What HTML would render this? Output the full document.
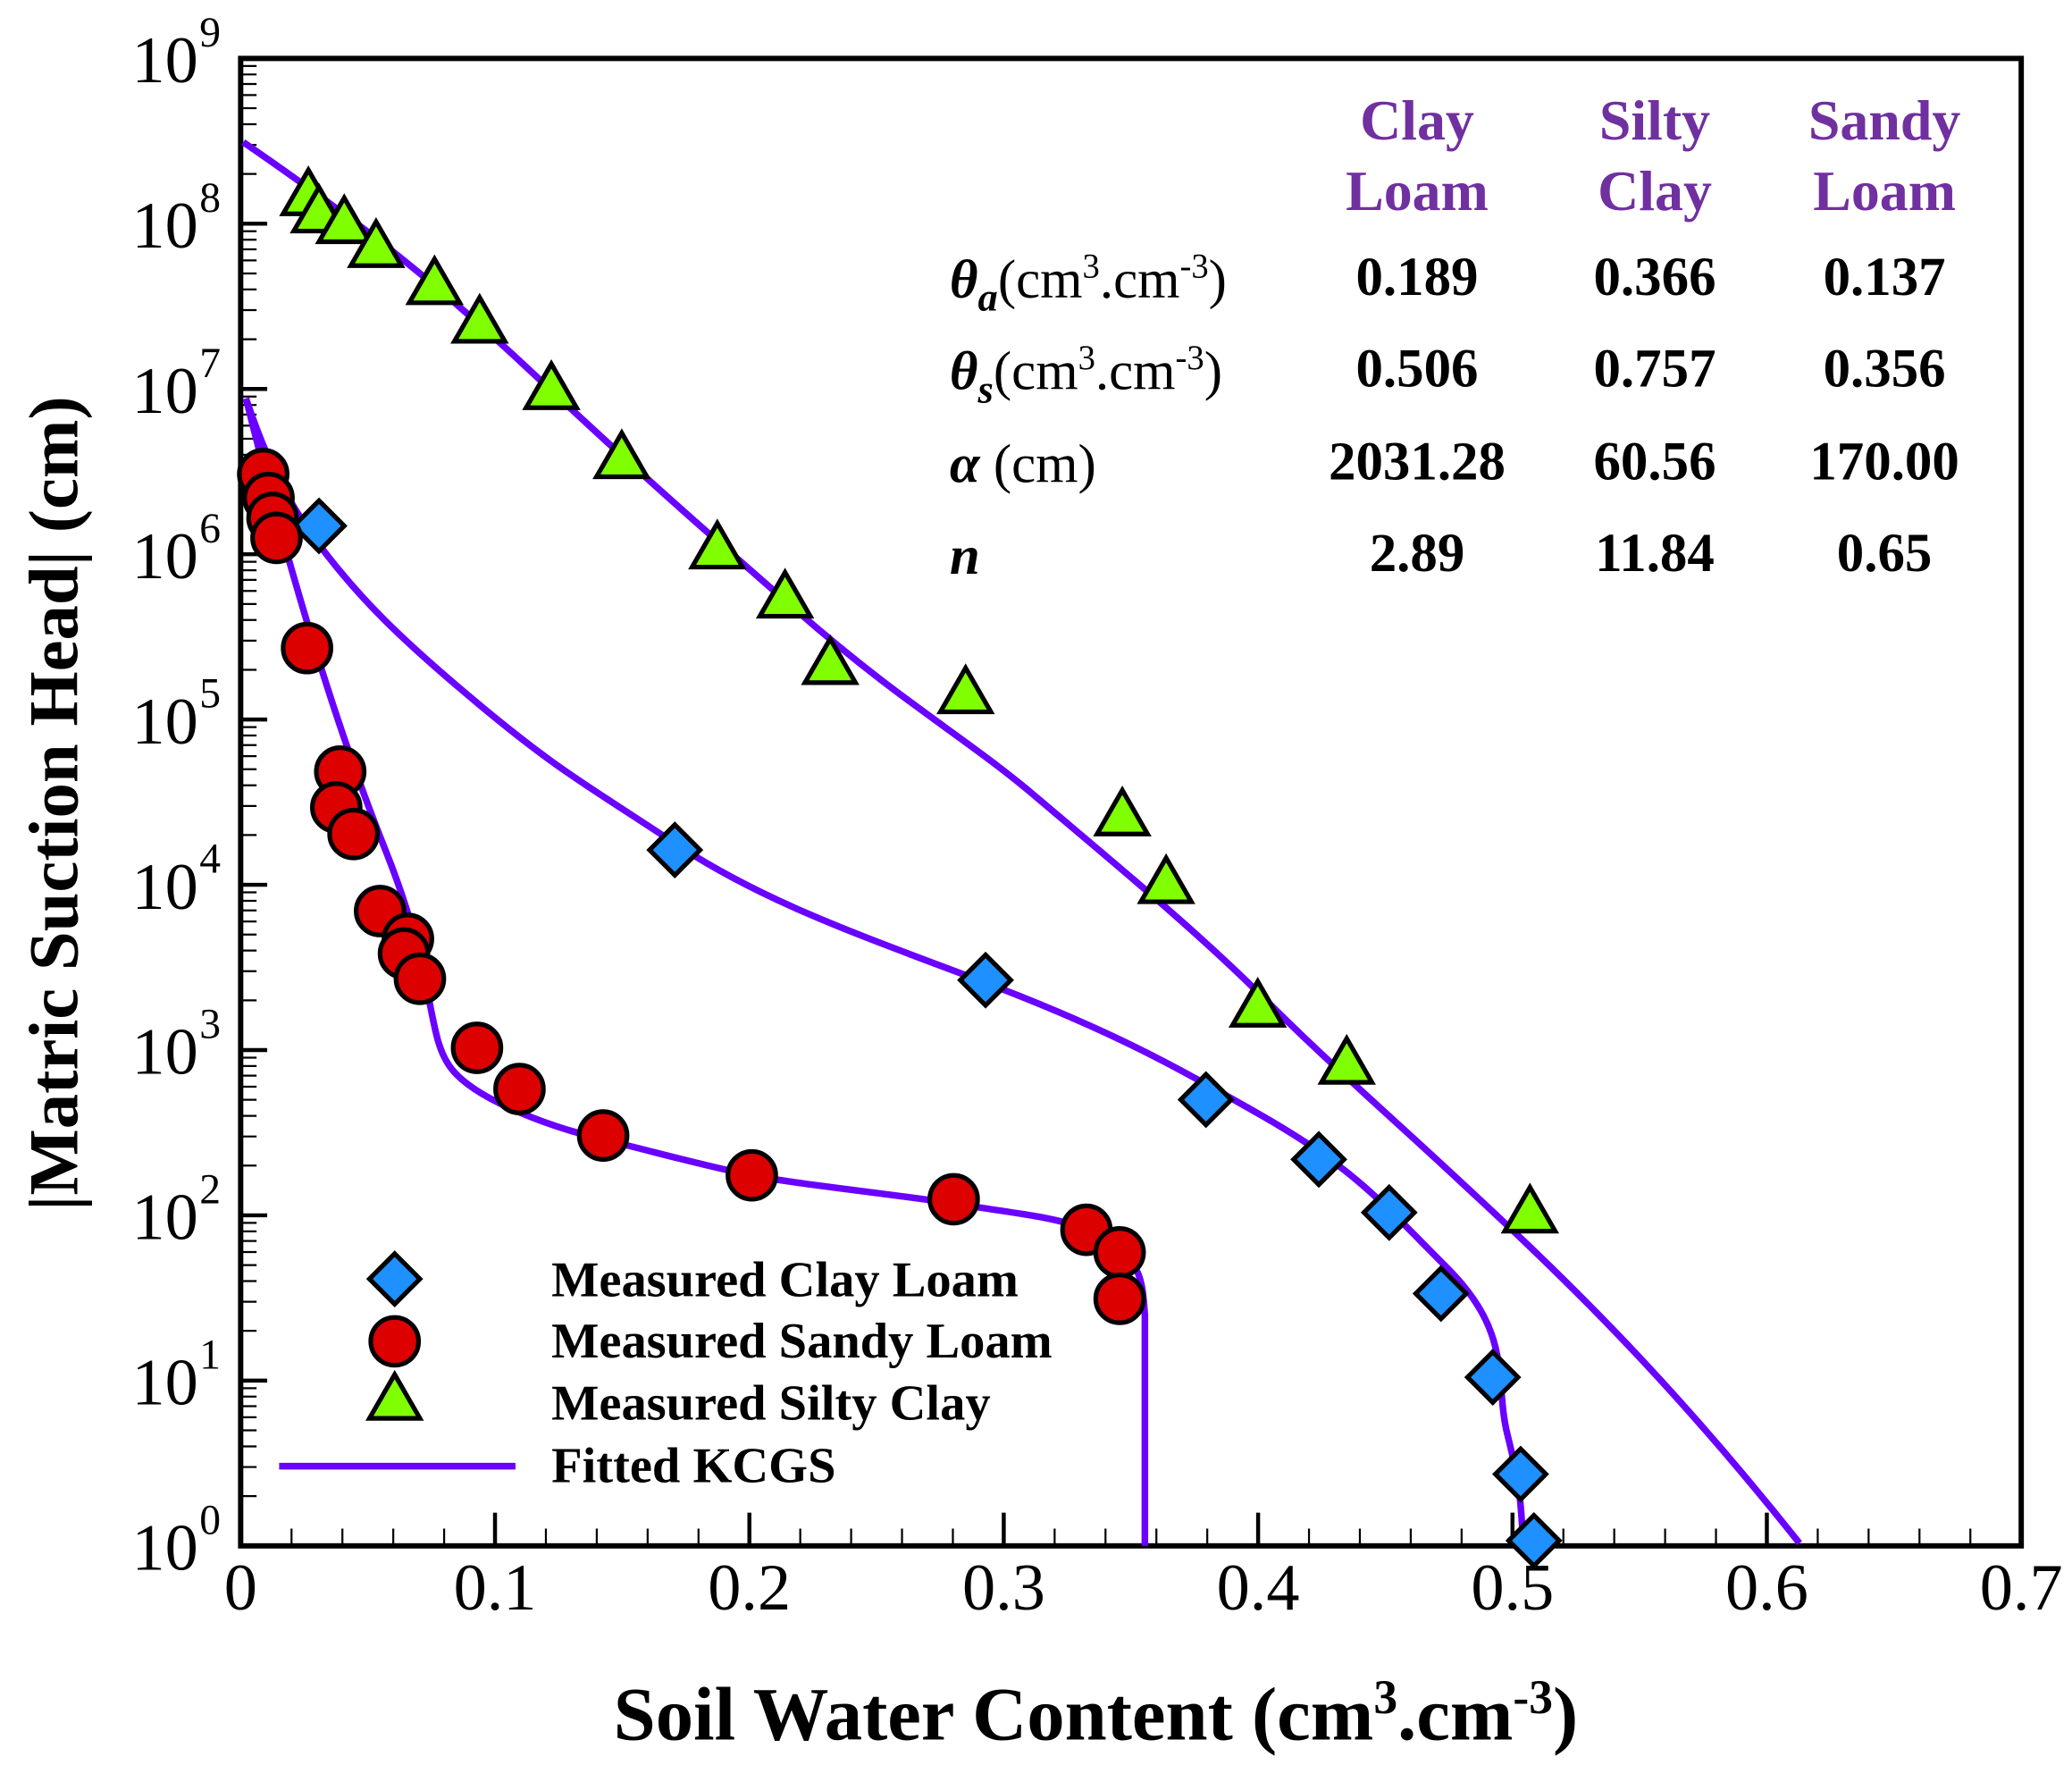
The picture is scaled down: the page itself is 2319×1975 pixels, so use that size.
<!DOCTYPE html>
<html><head><meta charset="utf-8"><style>
html,body{margin:0;padding:0;background:#fff;}
svg{display:block;}
text{font-family:"Liberation Serif",serif;}
</style></head><body>
<svg id="s" width="2319" height="1975" viewBox="0 0 1560 1329" xmlns="http://www.w3.org/2000/svg">
<g id="ticks" stroke="#000"></g>
<rect x="181" y="44" width="1341" height="1120" fill="none" stroke="#000" stroke-width="4"/>
<g font-size="50" fill="#000" id="lbl"></g>
<text x="825" y="1310" font-size="57" font-weight="bold" text-anchor="middle">Soil Water Content (cm<tspan font-size="36" dy="-20">3</tspan><tspan dy="20">.cm</tspan><tspan font-size="36" dy="-20">-3</tspan><tspan dy="20">)</tspan></text>
<text transform="translate(58,605) rotate(-90)" font-size="53" font-weight="bold" text-anchor="middle">|Matric Suction Head| (cm)</text>
<g fill="none" stroke="#6a00ff" stroke-width="5" stroke-linejoin="round">
<path d="M183,107 C260,160 320,205 400,280 S 520,390 600,460 S 727,555 780,600 S 900,700 950,750 S 1030,825 1100,890 S 1250,1030 1355,1162"/>
<path d="M185,300 C195,330 210,370 240,410 S 300,480 360,530 S 440,590 508,635 S 650,705 742,740 S 880,800 950,840 S 1040,905 1090,955 S 1125,1040 1135,1080 S 1145,1130 1147,1163"/>
<path d="M185,300 C215,420 250,540 290,640 S 320,780 340,805 S 420,850 454,858 S 530,878 566,885 S 680,900 730,908 S 810,918 835,935 S 860,965 862,990 L862,1164"/>
</g>
<g id="mk" stroke="#000" stroke-width="3.5"></g>
<g font-weight="bold" font-size="41">
<g fill="#7030a0" text-anchor="middle" font-size="43">
<text x="1067" y="105">Clay</text><text x="1067" y="158">Loam</text>
<text x="1246" y="105">Silty</text><text x="1246" y="158">Clay</text>
<text x="1419" y="105">Sandy</text><text x="1419" y="158">Loam</text>
</g>
<g text-anchor="middle" fill="#000">
<text x="1067" y="222">0.189</text><text x="1246" y="222">0.366</text><text x="1419" y="222">0.137</text>
<text x="1067" y="291">0.506</text><text x="1246" y="291">0.757</text><text x="1419" y="291">0.356</text>
<text x="1067" y="361">2031.28</text><text x="1246" y="361">60.56</text><text x="1419" y="361">170.00</text>
<text x="1067" y="430">2.89</text><text x="1246" y="430">11.84</text><text x="1419" y="430">0.65</text>
</g>
</g>
<g font-size="41" fill="#000">
<text x="715" y="224"><tspan font-style="italic" font-weight="bold">θ</tspan><tspan font-style="italic" font-weight="bold" font-size="30" dy="10">a</tspan><tspan dy="-10">(cm</tspan><tspan font-size="26" dy="-15">3</tspan><tspan dy="15">.cm</tspan><tspan font-size="26" dy="-15">-3</tspan><tspan dy="15">)</tspan></text>
<text x="715" y="293"><tspan font-style="italic" font-weight="bold">θ</tspan><tspan font-style="italic" font-weight="bold" font-size="30" dy="10">s</tspan><tspan dy="-10">(cm</tspan><tspan font-size="26" dy="-15">3</tspan><tspan dy="15">.cm</tspan><tspan font-size="26" dy="-15">-3</tspan><tspan dy="15">)</tspan></text>
<text x="715" y="363"><tspan font-style="italic" font-weight="bold">α</tspan> (cm)</text>
<text x="715" y="432" font-style="italic" font-weight="bold">n</text>
</g>
<g font-size="38" font-weight="bold" fill="#000">
<text x="415" y="976">Measured Clay Loam</text>
<text x="415" y="1022">Measured Sandy Loam</text>
<text x="415" y="1069">Measured Silty Clay</text>
<text x="415" y="1116">Fitted KCGS</text>
</g>
<line x1="210" y1="1104" x2="388" y2="1104" stroke="#6a00ff" stroke-width="5"/>
</svg>
<script>
var NS="http://www.w3.org/2000/svg";
function el(p,t,a){var e=document.createElementNS(NS,t);for(var k in a)e.setAttribute(k,a[k]);p.appendChild(e);return e;}
var L=181,R=1522,T=44,B=1164,dec=(B-T)/9,xs=(R-L)/0.7;
var tk=document.getElementById('ticks'),lb=document.getElementById('lbl');
for(var d=0;d<=9;d++){var y=B-d*dec;
 el(tk,'line',{x1:L,x2:L+20,y1:y,y2:y,'stroke-width':3});
 var t=el(lb,'text',{x:149,y:y+18,'text-anchor':'end'});t.textContent='10';
 var s=el(lb,'text',{x:150,y:y-9,'font-size':32});s.textContent=d;
 if(d<9)for(var m=2;m<10;m++){var yy=y-Math.log10(m)*dec;el(tk,'line',{x1:L,x2:L+12,y1:yy,y2:yy,'stroke-width':1.5});}
}
for(var i=0;i<=35;i++){var x=L+i*0.02*xs;var maj=(i%5==0);
 el(tk,'line',{x1:x,x2:x,y1:B,y2:B-(maj?25:13),'stroke-width':maj?3:1.5});
 if(maj){var t=el(lb,'text',{x:x,y:B+48,'text-anchor':'middle'});t.textContent=(i==0?'0':(i*0.02).toFixed(1));}
}
var mk=document.getElementById('mk');
function tri(x,y){el(mk,'path',{d:'M'+x+','+(y-19)+' L'+(x+19)+','+(y+14)+' L'+(x-19)+','+(y+14)+'Z',fill:'#7fff00'});}
function dia(x,y){el(mk,'path',{d:'M'+x+','+(y-19)+' L'+(x+19)+','+y+' L'+x+','+(y+19)+' L'+(x-19)+','+y+'Z',fill:'#1e90ff'});}
function cir(x,y){el(mk,'circle',{cx:x,cy:y,r:18,fill:'#dd0000'});}
[[232,147],[240,160],[259,168],[283,186],[327,214],[361,243],[415,293],[468,345],[540,413],[591,450],[625,500],[727,522],[845,614],[878,665],[947,758],[1014,801],[1152,913],[297,1054]].forEach(function(p){tri(p[0],p[1]);});
[[240,396],[508,640],[742,738],[908,828],[993,873],[1046,913],[1085,974],[1124,1037],[1145,1110],[1155,1160],[297,963]].forEach(function(p){dia(p[0],p[1]);});
[[198,357],[202,375],[205,390],[208,405],[231,488],[256,581],[253,608],[266,628],[286,686],[307,707],[304,718],[316,737],[359,789],[391,820],[454,855],[566,885],[718,903],[818,926],[843,943],[843,978],[297,1010]].forEach(function(p){cir(p[0],p[1]);});
</script>
</body></html>
